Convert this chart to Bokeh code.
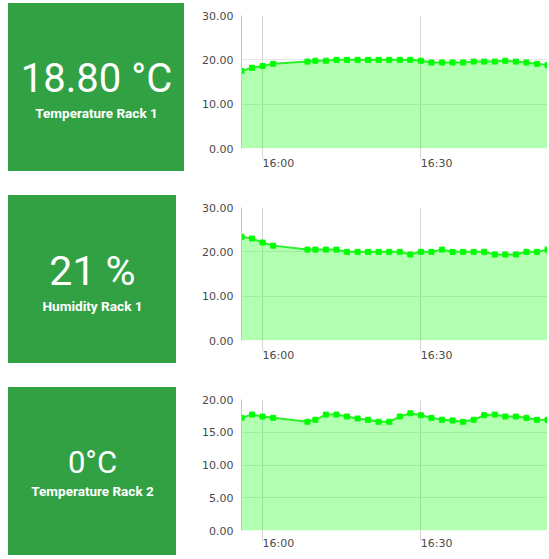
import pandas as pd
from bokeh.plotting import figure
from bokeh.layouts import row, column
from bokeh.models import (Range1d, Label, FixedTicker, NumeralTickFormatter,
                          DatetimeTickFormatter, ColumnDataSource, Spacer)
from bokeh.embed import file_html
from bokeh.resources import INLINE

# ---------------- data ----------------
day = "2020-01-01 "
times = ["15:56:00", "15:58:00", "16:00:00", "16:02:00", "16:08:30", "16:10:00",
         "16:12:00", "16:14:00", "16:16:00", "16:18:00", "16:20:00", "16:22:00",
         "16:24:00", "16:26:00", "16:28:00", "16:30:00", "16:32:00", "16:34:00",
         "16:36:00", "16:38:00", "16:40:00", "16:42:00", "16:44:00", "16:46:00",
         "16:48:00", "16:50:00", "16:52:00", "16:54:00"]
temp_rack1 = [17.5, 18.2, 18.6, 19.1, 19.6, 19.8, 19.8, 20.0, 20.0, 20.0, 20.0, 20.0,
              20.0, 20.0, 20.0, 19.8, 19.4, 19.4, 19.4, 19.4, 19.6, 19.6, 19.6, 19.8,
              19.6, 19.4, 19.1, 18.8]
hum_rack1 = [23.4, 23.0, 22.1, 21.4, 20.5, 20.5, 20.5, 20.5, 20.0, 20.0, 20.0, 20.0,
             20.0, 20.0, 19.4, 20.0, 20.0, 20.5, 20.0, 20.0, 20.0, 20.0, 19.4, 19.4,
             19.4, 20.0, 20.0, 20.5]
temp_rack2 = [17.2, 17.7, 17.4, 17.2, 16.6, 16.9, 17.7, 17.7, 17.4, 17.1, 16.9, 16.6,
              16.6, 17.4, 17.9, 17.6, 17.2, 16.9, 16.8, 16.6, 16.9, 17.6, 17.7, 17.4,
              17.4, 17.2, 16.9, 16.9]
x_tick_times = ["16:00:00", "16:30:00"]
y_ticks_30 = [0, 10, 20, 30]
y_ticks_20 = [0, 5, 10, 15, 20]

box_values = ["18.80 °C", "21 %", "0°C"]
box_titles = ["Temperature Rack 1", "Humidity Rack 1", "Temperature Rack 2"]

# ---------------- styling ----------------
GREEN = "#32a144"
ROW_H = 192
BOX_H = 168
TOP_B = 12
AXIS_FONT = "DejaVu Sans"
AXIS_COLOR = "#4a4a4a"


def to_ms(t):
    return (pd.Timestamp(day + t) - pd.Timestamp("1970-01-01")).total_seconds() * 1000.0


tx = pd.to_datetime([day + t for t in times], format="%Y-%m-%d %H:%M:%S")
xticks = [to_ms(t) for t in x_tick_times]


def chart(values, ymax, yticks, height, bottom, standoff):
    src = ColumnDataSource(dict(t=tx, v=values))
    p = figure(width=363, height=height, x_axis_type="datetime",
               x_range=Range1d(to_ms(times[0]), to_ms(times[-1])),
               y_range=Range1d(0, ymax),
               toolbar_location=None, output_backend="svg",
               min_border_left=57, min_border_right=0, min_border_top=TOP_B,
               min_border_bottom=bottom)
    p.outline_line_color = None
    p.background_fill_color = "white"
    p.border_fill_color = "white"

    p.xaxis.ticker = FixedTicker(ticks=xticks)
    p.xaxis.formatter = DatetimeTickFormatter(
        minsec="%H:%M", minutes="%H:%M", hourmin="%H:%M", hours="%H:%M",
        seconds="%H:%M", days="%H:%M")
    # a (practically zero) negative angle makes the labels start at the tick
    p.xaxis.major_label_orientation = -0.0001
    p.xaxis.major_label_standoff = standoff
    p.xaxis.axis_line_color = None
    p.xaxis.major_tick_out = 10
    p.xaxis.major_tick_in = 0
    p.xaxis.minor_tick_out = 0
    p.xaxis.minor_tick_in = 0
    p.xaxis.major_tick_line_color = "#d4d4d4"

    p.yaxis.ticker = FixedTicker(ticks=yticks)
    p.yaxis.formatter = NumeralTickFormatter(format="0.00")
    p.yaxis.axis_line_color = "#c4c4c4"
    p.yaxis.major_tick_out = 0
    p.yaxis.major_tick_in = 0
    p.yaxis.minor_tick_out = 0
    p.yaxis.minor_tick_in = 0
    p.yaxis.major_label_standoff = 8

    for ax in (p.xaxis, p.yaxis):
        ax.major_label_text_font = AXIS_FONT
        ax.major_label_text_font_size = "11px"
        ax.major_label_text_color = AXIS_COLOR

    p.xgrid.ticker = FixedTicker(ticks=xticks)
    p.xgrid.grid_line_color = "#d4d4d4"
    p.ygrid.ticker = FixedTicker(ticks=yticks)
    p.ygrid.grid_line_color = "#e6e6e6"

    p.varea(x="t", y1=0, y2="v", source=src, fill_color="#00ff00", fill_alpha=0.3)
    p.line(x="t", y="v", source=src, line_color="#2af02a", line_width=2)
    p.scatter(x="t", y="v", source=src, marker="square", size=5,
              fill_color="#00ff00", line_color="#00ff00")
    return p


def box(w, big, small, big_size, small_size, big_dy, small_dy, bottom):
    # y data units = pixels from the bottom of the green box
    b = figure(width=w, height=BOX_H,
               x_range=Range1d(0, w), y_range=Range1d(bottom, BOX_H - TOP_B),
               x_axis_location=None, y_axis_location=None,
               toolbar_location=None, output_backend="svg",
               min_border_left=0, min_border_right=0,
               min_border_top=TOP_B, min_border_bottom=bottom,
               styles={"background-color": GREEN})
    b.xgrid.grid_line_color = None
    b.ygrid.grid_line_color = None
    b.outline_line_color = None
    b.background_fill_color = GREEN
    b.border_fill_color = GREEN
    b.add_layout(Label(x=w / 2, y=BOX_H / 2 + big_dy, text=big, text_align="center",
                       text_baseline="middle", text_font="Roboto",
                       text_font_size=big_size, text_color="white"))
    b.add_layout(Label(x=w / 2, y=BOX_H / 2 - small_dy, text=small, text_align="center",
                       text_baseline="middle", text_font="Roboto",
                       text_font_style="bold", text_font_size=small_size,
                       text_color="white"))
    return b


b1 = box(176, box_values[0], box_titles[0], "40px", "13.5px", 9, 25, 47)
b2 = box(168, box_values[1], box_titles[1], "41px", "13.6px", 9, 26, 47)
b3 = box(168, box_values[2], box_titles[2], "31px", "13.5px", 9, 19, 29)

c1 = chart(temp_rack1, 30, y_ticks_30, ROW_H, 47, 5)
c2 = chart(hum_rack1, 30, y_ticks_30, ROW_H, 47, 5)
c3 = chart(temp_rack2, 20, y_ticks_20, 172, 29, 3)

r1 = row(b1, c1, spacing=0)
r2 = row(b2, Spacer(width=8, height=BOX_H), c2, spacing=0)
r3 = row(b3, Spacer(width=8, height=BOX_H), c3, spacing=0)
layout = column(r1, r2, r3, spacing=0,
                styles={"margin-top": "3px", "margin-left": "8px"})

open("out.html", "w").write(file_html(layout, INLINE))
